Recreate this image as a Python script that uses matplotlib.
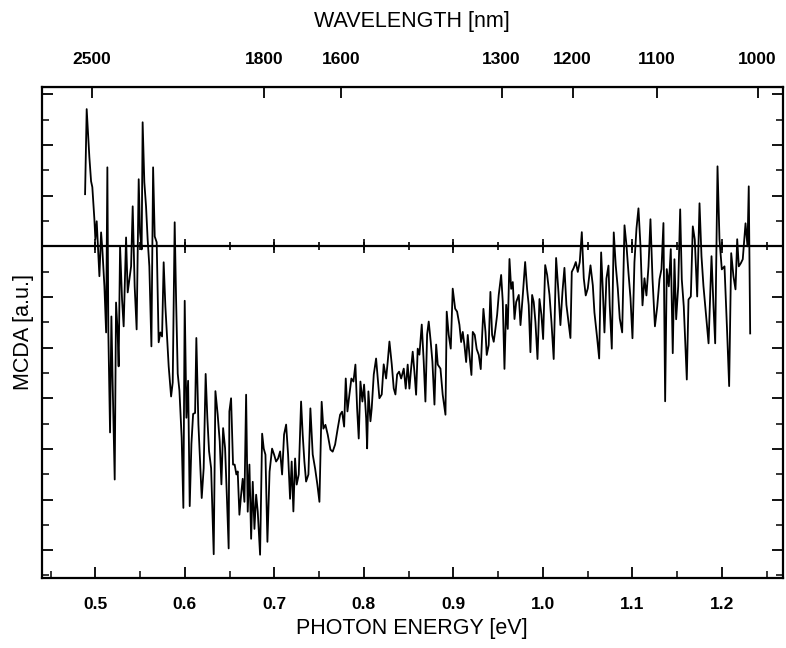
import numpy as np
import matplotlib
matplotlib.use("Agg")
import matplotlib.pyplot as plt
from matplotlib.ticker import MultipleLocator, FixedLocator, NullFormatter

# photon energy (eV) and MCDA signal (a.u.)
energy = [
    0.4885, 0.4903, 0.4933, 0.4952, 0.4966, 0.4989, 0.5000, 0.5015, 0.5026, 0.5045,
    0.5064, 0.5078, 0.5101, 0.5120, 0.5134, 0.5145, 0.5164, 0.5179, 0.5193, 0.5216,
    0.5231, 0.5249, 0.5260, 0.5276, 0.5298, 0.5316, 0.5343, 0.5361, 0.5380, 0.5399,
    0.5417, 0.5439, 0.5461, 0.5484, 0.5499, 0.5517, 0.5528, 0.5547, 0.5566, 0.5584,
    0.5603, 0.5626, 0.5645, 0.5663, 0.5685, 0.5707, 0.5726, 0.5745, 0.5763, 0.5782,
    0.5819, 0.5846, 0.5864, 0.5886, 0.5902, 0.5920, 0.5939, 0.5964, 0.5983, 0.5998,
    0.6017, 0.6036, 0.6054, 0.6073, 0.6092, 0.6114, 0.6128, 0.6151, 0.6170, 0.6188,
    0.6210, 0.6232, 0.6251, 0.6270, 0.6293, 0.6322, 0.6341, 0.6366, 0.6389, 0.6408,
    0.6427, 0.6449, 0.6471, 0.6489, 0.6497, 0.6516, 0.6538, 0.6556, 0.6575, 0.6590,
    0.6609, 0.6628, 0.6646, 0.6665, 0.6684, 0.6702, 0.6721, 0.6740, 0.6758, 0.6777,
    0.6796, 0.6814, 0.6840, 0.6863, 0.6881, 0.6900, 0.6922, 0.6946, 0.6974, 0.6997,
    0.7019, 0.7041, 0.7064, 0.7086, 0.7108, 0.7131, 0.7153, 0.7175, 0.7193, 0.7212,
    0.7231, 0.7249, 0.7272, 0.7298, 0.7316, 0.7335, 0.7354, 0.7380, 0.7402, 0.7428,
    0.7455, 0.7480, 0.7503, 0.7528, 0.7547, 0.7570, 0.7596, 0.7626, 0.7651, 0.7678,
    0.7707, 0.7734, 0.7756, 0.7779, 0.7797, 0.7816, 0.7838, 0.7860, 0.7883, 0.7905,
    0.7924, 0.7942, 0.7961, 0.7983, 0.8002, 0.8025, 0.8036, 0.8050, 0.8073, 0.8087,
    0.8110, 0.8136, 0.8154, 0.8173, 0.8199, 0.8221, 0.8248, 0.8266, 0.8285, 0.8311,
    0.8333, 0.8352, 0.8371, 0.8393, 0.8416, 0.8445, 0.8467, 0.8489, 0.8508, 0.8527,
    0.8545, 0.8564, 0.8583, 0.8601, 0.8620, 0.8646, 0.8668, 0.8687, 0.8706, 0.8724,
    0.8746, 0.8765, 0.8788, 0.8807, 0.8825, 0.8855, 0.8880, 0.8911, 0.8925, 0.8947,
    0.8970, 0.8992, 0.9019, 0.9041, 0.9067, 0.9086, 0.9104, 0.9123, 0.9142, 0.9160,
    0.9179, 0.9201, 0.9216, 0.9238, 0.9260, 0.9283, 0.9305, 0.9321, 0.9335, 0.9358,
    0.9372, 0.9394, 0.9413, 0.9432, 0.9450, 0.9469, 0.9488, 0.9506, 0.9533, 0.9551,
    0.9570, 0.9589, 0.9607, 0.9626, 0.9645, 0.9663, 0.9682, 0.9701, 0.9730, 0.9749,
    0.9775, 0.9801, 0.9823, 0.9841, 0.9860, 0.9879, 0.9897, 0.9916, 0.9939, 0.9961,
    0.9983, 1.0002, 1.0025, 1.0047, 1.0073, 1.0095, 1.0120, 1.0147, 1.0173, 1.0195,
    1.0218, 1.0240, 1.0262, 1.0285, 1.0307, 1.0322, 1.0344, 1.0367, 1.0389, 1.0411,
    1.0434, 1.0456, 1.0478, 1.0501, 1.0531, 1.0557, 1.0575, 1.0606, 1.0628, 1.0650,
    1.0668, 1.0687, 1.0709, 1.0732, 1.0746, 1.0769, 1.0791, 1.0813, 1.0836, 1.0858,
    1.0885, 1.0911, 1.0933, 1.0955, 1.0978, 1.1000, 1.1022, 1.1045, 1.1067, 1.1089,
    1.1112, 1.1134, 1.1156, 1.1179, 1.1201, 1.1224, 1.1251, 1.1277, 1.1302, 1.1324,
    1.1346, 1.1365, 1.1383, 1.1406, 1.1428, 1.1450, 1.1469, 1.1488, 1.1511, 1.1533,
    1.1551, 1.1573, 1.1607, 1.1626, 1.1652, 1.1674, 1.1696, 1.1723, 1.1749, 1.1771,
    1.1793, 1.1823, 1.1850, 1.1883, 1.1905, 1.1924, 1.1950, 1.1972, 1.1998, 1.2028,
    1.2058, 1.2080, 1.2103, 1.2128, 1.2151, 1.2170, 1.2188, 1.2210, 1.2232, 1.2263,
    1.2285, 1.2299, 1.2315,
]
mcda = [
    2.06, 5.42, 3.52, 2.57, 2.34, 1.07, 0.28, 0.99, 0.16, -1.18,
    0.55, -0.12, -1.58, -3.40, 3.12, -3.40, -7.35, -2.77, -5.38, -9.21,
    -2.22, -3.40, -4.74, 0.00, -2.10, -3.16, 0.35, -1.82, -1.30, -0.79,
    1.58, -1.58, -3.28, 2.65, 0.55, -0.12, 4.90, 2.53, 1.58, 0.28,
    -0.79, -3.95, 3.12, 0.39, 0.16, -3.79, -3.40, -3.56, -0.63, -2.37,
    -4.74, -5.93, -5.38, 0.95, -2.15, -5.03, -5.70, -7.56, -10.33, -2.15,
    -6.77, -5.31, -10.26, -7.80, -6.62, -6.58, -3.62, -7.02, -8.48, -9.94,
    -8.76, -5.04, -6.78, -8.09, -8.76, -12.16, -5.72, -6.63, -7.70, -9.40,
    -7.18, -7.97, -10.07, -11.93, -6.52, -6.00, -8.62, -8.62, -9.01, -8.89,
    -10.60, -9.81, -9.18, -10.09, -5.86, -10.48, -8.62, -11.55, -9.30, -11.16,
    -9.81, -10.48, -12.18, -7.40, -7.99, -8.23, -11.67, -8.90, -7.99, -8.23,
    -8.50, -8.38, -8.10, -9.01, -7.43, -7.04, -8.23, -9.97, -8.50, -10.47,
    -8.38, -9.41, -9.01, -6.13, -7.43, -8.50, -9.29, -9.01, -6.40, -8.22,
    -8.78, -9.41, -10.09, -6.14, -7.20, -7.05, -7.44, -8.03, -8.11, -7.83,
    -7.20, -6.65, -6.53, -7.12, -5.22, -6.52, -5.85, -5.22, -5.34, -4.67,
    -6.40, -7.59, -5.34, -6.13, -5.46, -6.79, -7.98, -5.73, -6.91, -6.40,
    -5.06, -4.43, -5.22, -6.00, -5.85, -4.66, -5.22, -4.55, -3.76, -4.66,
    -5.61, -5.85, -5.06, -4.95, -5.22, -4.83, -5.62, -4.67, -5.62, -4.83,
    -4.16, -4.95, -5.86, -4.04, -4.28, -3.09, -4.55, -6.13, -3.48, -2.97,
    -3.76, -4.55, -6.25, -3.88, -4.67, -4.83, -5.86, -6.65, -2.58, -3.49,
    -4.04, -1.67, -2.46, -2.58, -3.10, -3.78, -3.38, -3.90, -4.57, -3.50,
    -4.29, -5.08, -3.38, -3.50, -4.06, -4.29, -4.85, -3.50, -2.47, -3.38,
    -4.29, -3.90, -1.80, -3.50, -3.77, -3.26, -2.71, -1.92, -1.13, -2.19,
    -4.84, -2.31, -3.26, -0.50, -1.68, -1.41, -2.87, -2.20, -1.92, -3.11,
    -1.92, -0.62, -1.69, -2.32, -4.18, -1.92, -2.20, -2.99, -4.45, -2.08,
    -2.71, -3.66, -0.74, -1.13, -1.92, -2.99, -4.45, -0.46, -1.80, -3.11,
    -1.80, -0.85, -2.31, -2.99, -3.62, -1.01, -0.85, -0.62, -1.01, -0.62,
    0.56, -1.26, -1.94, -1.66, -0.75, -1.54, -2.61, -3.64, -4.43, -0.24,
    -1.66, -3.40, -1.27, -0.76, -2.34, -4.04, 0.55, -0.75, -1.66, -2.85,
    -3.40, 0.83, 0.04, -1.03, -2.05, -3.63, -0.63, 0.71, 1.50, 0.04,
    -2.33, -1.26, -1.94, -0.79, 1.07, -1.30, -3.16, -2.37, -1.30, -0.90,
    0.92, -6.12, -0.90, -1.58, -0.11, -4.22, -0.51, -2.88, -1.58, 1.46,
    -1.31, -2.37, -5.26, -2.10, -1.98, 0.79, 0.27, -1.98, 1.70, -0.39,
    -1.57, -2.76, -3.83, -0.39, -2.36, -3.83, 3.16, 0.28, -0.91, -0.79,
    -3.43, -5.52, -0.27, -1.18, -1.70, 0.28, -0.79, -0.67, -0.51, 0.91,
    0.00, 2.37, -3.44,
]

energy_ticks = [0.5, 0.6, 0.7, 0.8, 0.9, 1.0, 1.1, 1.2]
wavelength_ticks = [2500, 1800, 1600, 1300, 1200, 1100, 1000]

plt.rcParams["font.family"] = ["Liberation Sans", "DejaVu Sans"]

fig = plt.figure(figsize=(7.86, 6.48), dpi=100)
ax = fig.add_axes([0.053, 0.108, 0.943, 0.758])

ax.plot(energy, mcda, color="black", linewidth=1.3, zorder=3)
ax.axhline(0, color="black", linewidth=1.6, zorder=2)
# little tick marks crossing the zero line
minor_e = np.arange(0.5, 1.26, 0.05)
ax.plot(minor_e, np.zeros_like(minor_e), "|", color="black", ms=6, mew=1.2, zorder=2)
ax.plot(energy_ticks, np.zeros(len(energy_ticks)), "|", color="black", ms=10, mew=1.2, zorder=2)

ax.set_xlim(0.44, 1.268)
ax.set_ylim(-13.1, 6.3)

ax.xaxis.set_major_locator(FixedLocator(energy_ticks))
ax.xaxis.set_minor_locator(MultipleLocator(0.05))
ax.set_xticklabels([f"{v:.1f}" for v in energy_ticks], fontsize=12.5, fontweight="bold")
ax.yaxis.set_major_locator(MultipleLocator(2))
ax.yaxis.set_minor_locator(MultipleLocator(1))
ax.yaxis.set_major_formatter(NullFormatter())
ax.tick_params(axis="both", which="major", direction="in", length=8, width=1.3,
               top=False, right=True)
ax.tick_params(axis="both", which="minor", direction="in", length=5, width=1.1,
               top=False, right=True)
ax.tick_params(axis="x", which="major", pad=14)

for s in ax.spines.values():
    s.set_linewidth(1.6)

ax.set_xlabel("PHOTON ENERGY [eV]", fontsize=15.5, labelpad=4)
ax.set_ylabel("MCDA [a.u.]", fontsize=15.5, labelpad=2)

top = ax.secondary_xaxis("top", functions=(lambda e: 1239.84 / np.clip(e, 1e-6, None),
                                           lambda w: 1239.84 / np.clip(w, 1e-6, None)))
top.xaxis.set_major_locator(FixedLocator(wavelength_ticks))
top.xaxis.set_minor_locator(FixedLocator([]))
top.set_xticklabels([str(w) for w in wavelength_ticks], fontsize=12.5, fontweight="bold")
top.tick_params(axis="x", direction="in", length=8, width=1.3, pad=14)
top.set_xlabel("WAVELENGTH [nm]", fontsize=15.5, labelpad=18)

fig.savefig("out.png", dpi=100, facecolor="white")
